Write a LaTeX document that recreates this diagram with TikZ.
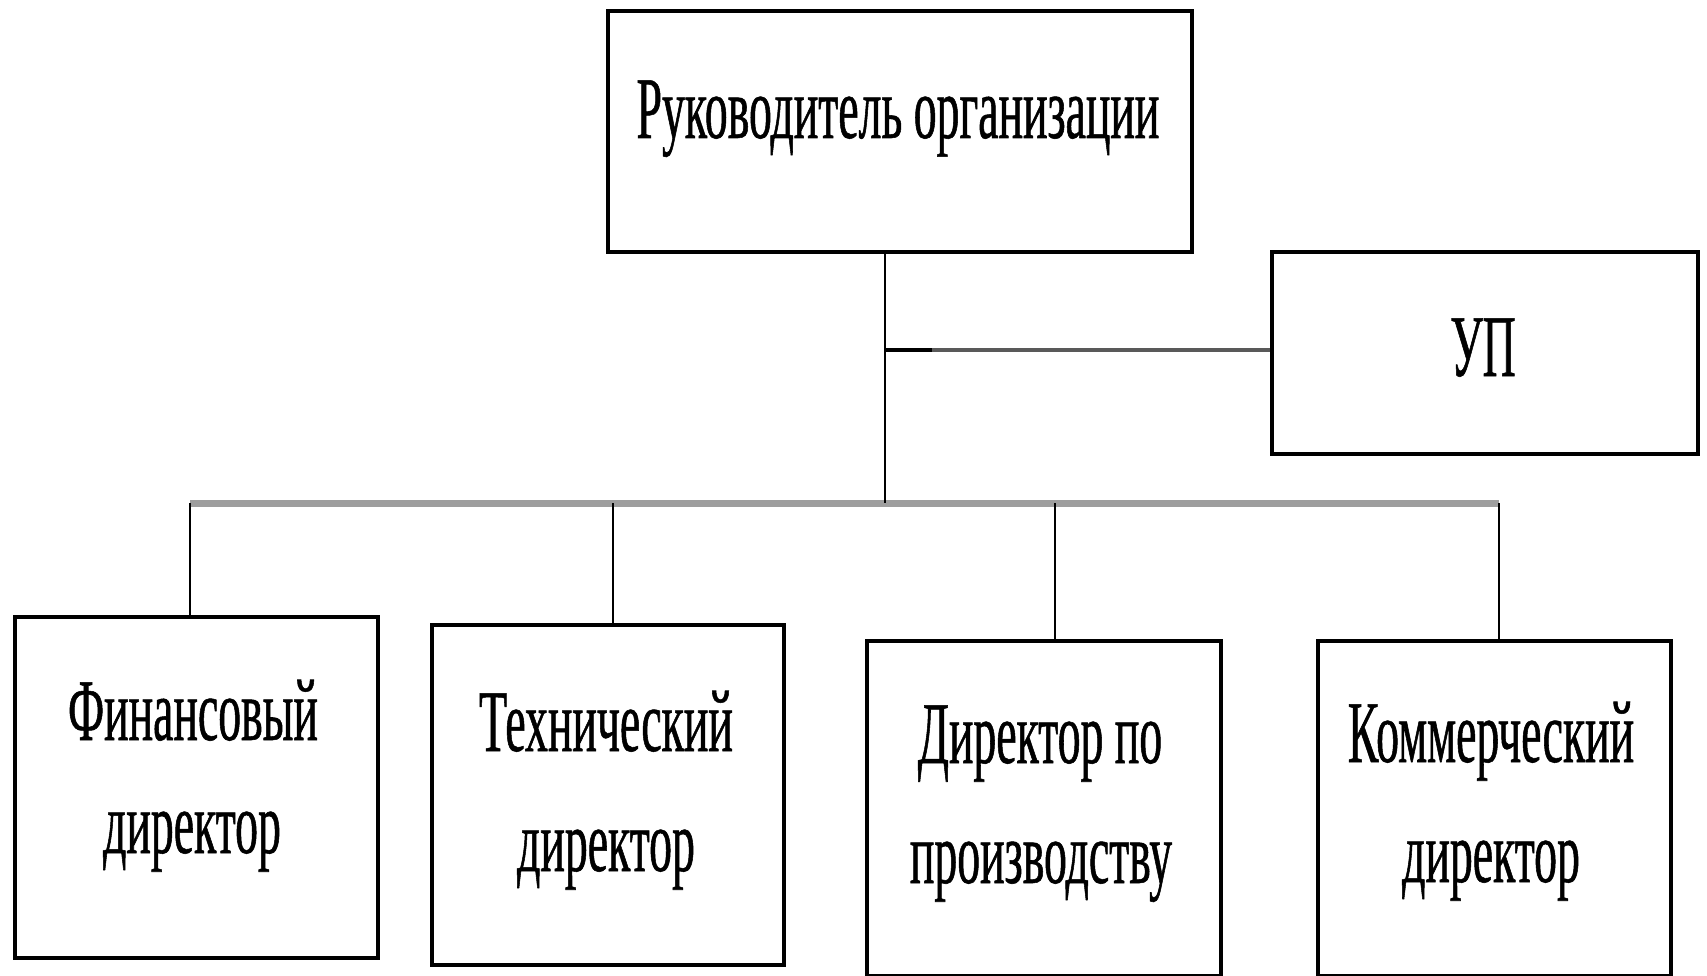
\documentclass[tikz,border=0pt]{standalone}
\usepackage{fontspec}
\newfontfamily\cond[FakeStretch=0.52,FakeBold=0.6]{Liberation Serif}
\begin{document}
\begin{tikzpicture}[x=1pt,y=-1pt,
  box/.style={draw=black,line width=3.8pt,inner sep=0pt,anchor=north west},
  lbl/.style={font=\cond\fontsize{88}{100}\selectfont,anchor=base,inner sep=0pt},
  link/.style={draw=black,line width=2.8pt},
  bus/.style={draw=black!38,line width=7pt},
  uplink/.style={draw=black!65,line width=4.5pt}]
\useasboundingbox (0,0) rectangle (1707,976);
% boxes
\node[box,minimum width=584pt,minimum height=241pt] (top) at (606,9) {};
\node[box,minimum width=426pt,minimum height=202pt] (up) at (1270,250) {};
\node[box,minimum width=363pt,minimum height=341pt] (fin) at (13,615) {};
\node[box,minimum width=352pt,minimum height=340pt] (tech) at (430,623) {};
\node[box,minimum width=354pt,minimum height=335pt] (prod) at (865,639) {};
\node[box,minimum width=353pt,minimum height=335pt] (comm) at (1316,639) {};
% texts
\node[lbl] (ttop) at (898,138) {Руководитель организации};
\node[lbl] (tup) at (1483,376) {УП};
\node[lbl] (tfin1) at (193,740) {Финансовый};
\node[lbl] (tfin2) at (192,853) {директор};
\node[lbl] (ttech1) at (606,751) {Технический};
\node[lbl] (ttech2) at (606,871) {директор};
\node[lbl] (tprod1) at (1040,763) {Директор по};
\node[lbl] (tprod2) at (1041,883) {производству};
\node[lbl] (tcomm1) at (1491,762) {Коммерческий};
\node[lbl] (tcomm2) at (1491,882) {директор};
% junction coordinates
\coordinate (j) at (885,503);
\coordinate (ju) at (885,350);
\coordinate (js) at (932,350);
\coordinate (b1) at (190,503);
\coordinate (b2) at (613,503);
\coordinate (b3) at (1055,503);
\coordinate (b4) at (1499,503);
% connectors
\draw[bus] (b1) -- (b4);
\draw[link] (top.south -| j) -- (j);
\draw[uplink] (ju) -- (up.west |- ju);
\draw[link,line width=3.8pt] (ju) -- (js);
\draw[link] (b1) -- (fin.north -| b1);
\draw[link] (b2) -- (tech.north -| b2);
\draw[link] (b3) -- (prod.north -| b3);
\draw[link] (b4) -- (comm.north -| b4);
\end{tikzpicture}
\end{document}
